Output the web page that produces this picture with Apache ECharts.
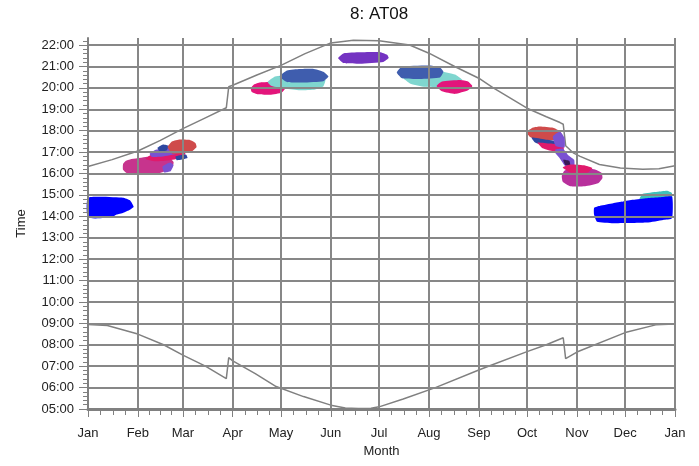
<!DOCTYPE html>
<html><head><meta charset="utf-8">
<script src="https://cdn.jsdelivr.net/npm/echarts@6/dist/echarts.min.js"></script>
<style>html,body{margin:0;padding:0;background:#fff}#c{width:699px;height:466px}</style>
</head><body><div id="c"></div>
<script>
// ---- axes ----
const monthStarts = [0,31,59,90,120,151,181,212,243,273,304,334,365];
const monthLabels = ['Jan','Feb','Mar','Apr','May','Jun','Jul','Aug','Sep','Oct','Nov','Dec','Jan'];
const hourTicks = [5,6,7,8,9,10,11,12,13,14,15,16,17,18,19,20,21,22];
const hourLabels = ['05:00','06:00','07:00','08:00','09:00','10:00','11:00','12:00','13:00','14:00','15:00','16:00','17:00','18:00','19:00','20:00','21:00','22:00'];

// ---- sun curves [dayOfYear, hour] ----
const sunset = [[0,16.33],[15,16.65],[31,17.05],[45,17.55],[59,18.1],[73,18.6],[86,19.07],[87.5,20.05],[90,20.12],[105,20.6],[120,21.05],[135,21.6],[151,22.1],[165,22.22],[181,22.2],[200,22.0],[212,21.62],[228,21.0],[243,20.45],[252,20.0],[273,19.05],[285,18.65],[293.5,18.38],[295.5,18.3],[297,17.3],[302,16.95],[306,16.8],[318,16.42],[331,16.26],[345,16.2],[355,16.22],[365,16.36]];
const sunrise = [[0,8.95],[12,8.9],[31,8.5],[47,8.0],[59,7.52],[73,7.0],[86,6.42],[87.5,7.4],[90,7.25],[104,6.65],[117,6.05],[134,5.58],[151,5.18],[160,5.05],[168,5.02],[176,5.03],[181,5.1],[196,5.47],[216,6.0],[243,6.82],[249,7.0],[273,7.68],[285,8.0],[295.5,8.33],[297,7.35],[304,7.66],[334,8.57],[353,8.93],[365,8.97]];

// ---- shadow periods (outlines, [dayOfYear, hour]) ----
const janBlue = [[0,14.87],[21.8,14.87],[26.1,14.75],[28.4,14.45],[26.1,14.31],[22,14.17],[17.8,14.08],[14.7,13.94],[0,13.94]];
const decCyan = [[343,14.8],[345,15.05],[354,15.15],[360,15.2],[363,15.1],[363,14.8]];
const decBlue = [[314.7,14.39],[318.4,14.49],[326.5,14.61],[332.7,14.69],[338.9,14.77],[347.6,14.85],[355.7,14.89],[363.2,14.92],[363.2,13.91],[357.6,13.83],[347.6,13.71],[326.5,13.68],[316.5,13.75],[314.7,14.07]];
const febMagenta = [[21.8,16.45],[23.6,16.6],[26.1,16.66],[36.7,16.78],[42.9,16.9],[49.8,16.8],[53.2,16.54],[52.6,16.31],[49.1,16.15],[44.8,16.02],[36.7,15.98],[24.3,16.01],[21.8,16.17]];
const febPurpleLow = [[46.3,16.33],[51,16.52],[53.2,16.4],[51.3,16.1],[47.3,16.05]];
const febCrimson = [[35.8,16.68],[39.8,16.9],[47.9,16.98],[57.2,17.08],[60.6,16.96],[58.8,16.76],[51,16.62],[41.7,16.57]];
const febPurple = [[38.3,16.92],[41.7,17.1],[47.9,17.17],[56,17.22],[58.2,17.06],[54.1,16.9],[44.8,16.78],[39.5,16.78]];
const febNavy = [[43.2,17.2],[46.6,17.36],[50.1,17.3],[48.8,17.08],[44.5,17.04]];
const febNavy2 = [[54.4,16.8],[60.9,16.89],[61.9,16.72],[55.3,16.62]];
const febRed = [[49.5,17.24],[52.2,17.5],[57.2,17.59],[63.4,17.57],[66.8,17.43],[67.5,17.24],[64.7,17.04],[59.1,16.94],[52.2,16.94]];
const aprPink = [[101.2,19.98],[103.2,20.16],[107,20.25],[118.2,20.28],[122.1,20.14],[122.7,19.98],[120.6,19.79],[113.2,19.68],[105.7,19.7],[101.8,19.81]];
const mayCyan = [[111.7,20.28],[116.3,20.53],[125.6,20.63],[144.3,20.58],[147.6,20.37],[146.3,20.07],[141.2,19.93],[131.8,19.89],[122.5,19.96],[114.2,20.09]];
const mayBlue = [[119.2,20.53],[123.8,20.81],[131.8,20.88],[139.9,20.89],[146.3,20.75],[149.5,20.53],[146.3,20.31],[133.7,20.25],[123.8,20.27]];
const junPurple = [[155.5,21.39],[158.8,21.61],[169.2,21.66],[181.6,21.67],[186,21.55],[187,21.39],[183.6,21.21],[169.2,21.13],[158.8,21.16]];
const augCyan = [[194,20.61],[200.2,20.21],[209.6,20.05],[222,20.03],[228.2,20.12],[232.8,20.37],[228.2,20.63],[218.9,20.77]];
const augBlue = [[192,20.72],[195.3,21.0],[212.7,21.05],[218.9,20.95],[221,20.75],[218.9,20.49],[206.5,20.42],[195.3,20.45]];
const augPink = [[216.8,20.09],[220.1,20.3],[231.3,20.37],[236.3,20.3],[239,20.09],[236.3,19.89],[228.2,19.72],[220.1,19.84]];
const octRed = [[272.8,17.94],[276.7,18.15],[281.1,18.2],[289.2,18.14],[293.7,17.97],[294.4,17.76],[289.2,17.55],[281.1,17.55],[274.7,17.72]];
const octNavy = [[275.8,17.68],[284.2,17.59],[291.2,17.5],[291.2,17.27],[284.2,17.27],[277.8,17.46]];
const octCrimson = [[279.5,17.45],[287.3,17.4],[295.6,17.31],[295.6,17.04],[289.2,17.04],[282.7,17.18]];
const octPurple = [[289,17.73],[293.5,17.96],[296.3,17.66],[296.3,17.22],[290.8,17.29]];
const octTrail = [[290.6,17.12],[295.2,17.17],[298.5,16.87],[302.3,16.64],[302.3,16.29],[296.9,16.34],[293.2,16.73],[290.6,16.96]];
const octDark = [[295.5,16.64],[299.3,16.59],[299.9,16.36],[296.8,16.4]];
const novMagenta = [[294.6,15.89],[296.4,16.14],[306,16.24],[315.3,16.19],[319.3,16.03],[319.9,15.79],[317.2,15.54],[309.1,15.4],[299.8,15.4],[295.2,15.61]];
const novCrimson = [[295.2,16.28],[299.8,16.42],[309.1,16.38],[313.6,16.26],[310.9,16.05],[299.8,16.05]];

// minor tick positions (quarter months, fifth of hours)
const xMinorTicks = [];
for (let i = 0; i < monthStarts.length - 1; i++) {
  const a = monthStarts[i], b = monthStarts[i+1];
  for (let k = 1; k < 4; k++) xMinorTicks.push(a + (b - a) * k / 4);
}
const yMinorTicks = [];
for (let i = 0; i < hourTicks.length; i++) {
  for (let k = 1; k < 5; k++) yMinorTicks.push(hourTicks[i] + k * 0.2);
}

const F = "'Liberation Sans', Arial, sans-serif";
const C = {blue:'#0000ff', cyan:'#7fd6cf', cyanDeep:'#3fc2ba', steel:'#3f5dae', purple:'#7433c2',
  pink:'#e3157b', red:'#cf4b4b', magenta:'#c7348d', crimson:'#e01a6c', violet:'#7a52d2', navy:'#2d47a0', dark:'#3a1a55', magenta2:'#b8309c'};

const blobs = [
  [janBlue, C.blue], [decCyan, C.cyanDeep], [decBlue, C.blue],
  [febMagenta, C.magenta], [febPurpleLow, C.violet], [febCrimson, C.crimson], [febPurple, C.violet], [febNavy, C.navy], [febNavy2, C.navy], [febRed, C.red],
  [aprPink, C.pink], [mayCyan, C.cyan], [mayBlue, C.steel], [junPurple, C.purple],
  [augCyan, C.cyan], [augBlue, C.steel], [augPink, C.pink],
  [octRed, C.red], [octNavy, C.navy], [octCrimson, C.crimson], [octPurple, C.violet], [octTrail, C.violet], [octDark, C.dark],
  [novMagenta, C.magenta2], [novCrimson, C.crimson]
];

function polySeries(pts, color) {
  return {
    type: 'custom', xAxisIndex: 0, yAxisIndex: 0, z: 2, silent: true, animation: false,
    data: pts,
    renderItem: function (params, api) {
      if (params.dataIndex !== 0) return null;
      return {
        type: 'polygon',
        shape: { points: pts.map(p => api.coord(p)), smooth: 0.15 },
        style: { fill: color, stroke: null }
      };
    }
  };
}

const series = blobs.map(b => polySeries(b[0], b[1]));
series.unshift(
  {type:'line', xAxisIndex:0, yAxisIndex:0, data: sunrise, showSymbol:false, z:1, silent:true, animation:false, lineStyle:{color:'#808080', width:1.5}},
  {type:'line', xAxisIndex:0, yAxisIndex:0, data: sunset, showSymbol:false, z:1, silent:true, animation:false, lineStyle:{color:'#808080', width:1.5}}
);

function near(arr, v) { return arr.findIndex(a => Math.abs(a - v) < 0.01); }

const chart = echarts.init(document.getElementById('c'), null, {renderer:'canvas'});
chart.setOption({
  animation: false,
  backgroundColor: '#ffffff',
  title: { text: '8: AT08', left: 350, top: 6, padding: 0,
    textStyle: { fontSize: 17, fontWeight: 'normal', color: '#111', fontFamily: F } },
  grid: { left: 88, right: 24, top: 38, bottom: 57, containLabel: false },
  xAxis: [{
    type: 'value', min: 0, max: 365, position: 'bottom', z: 3,
    name: 'Month', nameLocation: 'middle', nameGap: 35,
    nameTextStyle: { fontSize: 13, color: '#222', fontFamily: F },
    axisLine: { show: true, onZero: false, lineStyle: { color: '#808080', width: 3 } },
    axisTick: { show: true, customValues: monthStarts, length: 8, lineStyle: { color: '#808080', width: 1 } },
    axisLabel: { show: true, customValues: monthStarts, margin: 18, fontSize: 13, color: '#222', fontFamily: F,
      formatter: v => monthLabels[near(monthStarts, v)] },
    splitLine: { show: true, lineStyle: { color: '#878787', width: 2 } }
  }, {
    type: 'value', min: 0, max: 365, position: 'bottom', z: 3,
    axisLine: { show: false },
    axisTick: { show: true, customValues: xMinorTicks, length: 6, lineStyle: { color: '#808080', width: 1 } },
    axisLabel: { show: false }, splitLine: { show: false }
  }],
  yAxis: [{
    type: 'value', min: 5, max: 22.33, position: 'left', z: 3,
    name: 'Time', nameLocation: 'middle', nameGap: 60, nameRotate: 90,
    nameTextStyle: { fontSize: 13, color: '#222', fontFamily: F },
    axisLine: { show: true, onZero: false, lineStyle: { color: '#808080', width: 2 } },
    axisTick: { show: true, customValues: hourTicks, length: 9, lineStyle: { color: '#808080', width: 1 } },
    axisLabel: { show: true, customValues: hourTicks, margin: 14, fontSize: 13, color: '#222', fontFamily: F,
      formatter: v => hourLabels[near(hourTicks, v)] },
    splitLine: { show: true, lineStyle: { color: '#878787', width: 2 } }
  }, {
    type: 'value', min: 5, max: 22.33, position: 'left', z: 3,
    axisLine: { show: false },
    axisTick: { show: true, customValues: yMinorTicks, length: 5, lineStyle: { color: '#808080', width: 1 } },
    axisLabel: { show: false }, splitLine: { show: false }
  }],
  series: series
});
</script>
</body></html>
